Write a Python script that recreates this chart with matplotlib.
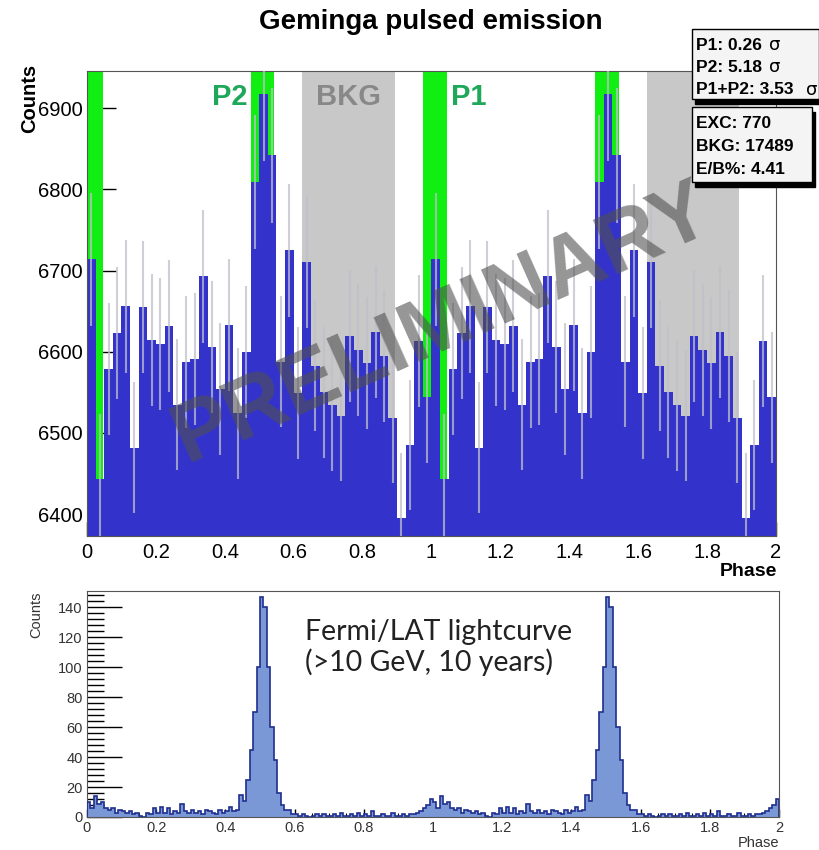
import numpy as np
import matplotlib
matplotlib.use("Agg")
import matplotlib.pyplot as plt
from matplotlib.patches import Rectangle

# MAGIC phase histogram, 40 bins per phase (repeated for phase 1-2)
magic_counts = [6714, 6443, 6579, 6623, 6656, 6482, 6655, 6614, 6610, 6632,
                6535, 6587, 6591, 6693, 6606, 6554, 6633, 6524, 6600, 6809,
                6918, 6842, 6588, 6725, 6549, 6711, 6583, 6550, 6534, 6521,
                6619, 6602, 6586, 6624, 6595, 6519, 6395, 6485, 6613, 6544]

# Fermi/LAT lightcurve, 100 bins per phase (repeated for phase 1-2)
fermi_counts = [10, 6, 14, 9, 10, 6, 5, 6, 3, 5,
                4, 3, 4, 2, 3, 1, 0, 3, 2, 6,
                3, 7, 3, 6, 2, 4, 3, 9, 4, 3,
                5, 3, 4, 2, 5, 4, 3, 2, 5, 3,
                4, 7, 4, 5, 15, 11, 25, 45, 70, 100,
                147, 140, 100, 60, 38, 16, 8, 5, 5, 2,
                2, 1, 2, 1, 0, 1, 2, 1, 2, 1,
                1, 2, 1, 3, 1, 1, 2, 1, 3, 1,
                2, 1, 4, 1, 1, 2, 1, 1, 3, 1,
                1, 2, 1, 2, 2, 3, 4, 6, 8, 12]

p1_region = (-0.025, 0.045)
p2_region = (0.475, 0.543)
bkg_region = (0.625, 0.893)

sig_labels = ["P1: 0.26", "P2: 5.18", "P1+P2: 3.53"]
stat_labels = ["EXC: 770", "BKG: 17489", "E/B%: 4.41"]

W, H = 820, 850
def fx(x): return x / W
def fy(y): return 1 - y / H

fig = plt.figure(figsize=(8.2, 8.5), dpi=100)
fnt = "Liberation Sans"

# ---------------- top panel ----------------
ax = fig.add_axes([fx(87), fy(536), fx(776) - fx(87), fy(71) - fy(536)])
vals = np.array(magic_counts * 2, dtype=float)
nb = len(vals)
edges = np.linspace(0, 2, nb + 1)
w = edges[1] - edges[0]

for k in range(-1, 2):
    for reg, col in [(p1_region, "#11ee11"), (p2_region, "#11ee11"), (bkg_region, "#c8c8c8")]:
        ax.axvspan(reg[0] + k, reg[1] + k, color=col, lw=0, zorder=1)

ax.bar(edges[:-1], vals, width=w, align="edge", color="#3333cc", lw=0, zorder=2)
cent = edges[:-1] + w / 2
err = np.sqrt(vals)
ax.vlines(cent, vals - err, vals + err, color=(0.75, 0.75, 0.8), alpha=0.75, lw=1.5, zorder=3)

ax.set_xlim(0, 2)
ax.set_ylim(6373, 6946)
ax.set_axisbelow(True)
ax.set_yticks(np.arange(6400, 6901, 100))
ax.set_xticks(np.arange(0, 2.01, 0.2))
ax.set_xticklabels(["0", "0.2", "0.4", "0.6", "0.8", "1", "1.2", "1.4", "1.6", "1.8", "2"])
ax.tick_params(axis="both", direction="in", labelsize=14.5, length=21, width=1, pad=3)
ax.tick_params(axis="x", length=10, pad=5)
for t in ax.get_xticklabels() + ax.get_yticklabels():
    t.set_fontfamily(fnt)
for s in ax.spines.values():
    s.set_color("#555555")

ax.text(0.415, 6914, "P2", color="#1fa85a", fontsize=21, fontweight="bold", family=fnt,
        ha="center", va="center", zorder=4)
ax.text(0.76, 6914, "BKG", color="#888888", fontsize=21, fontweight="bold", family=fnt,
        ha="center", va="center", zorder=4)
ax.text(1.109, 6914, "P1", color="#1fa85a", fontsize=21, fontweight="bold", family=fnt,
        ha="center", va="center", zorder=4)

ax.text(0.515, 0.455, "PRELIMINARY", transform=ax.transAxes, rotation=24,
        fontsize=61, fontweight="bold", family=fnt, color="#505050", alpha=0.6,
        ha="center", va="center", zorder=5)

fig.text(fx(431), fy(22), "Geminga pulsed emission", fontsize=20, fontweight="bold",
         family=fnt, ha="center", va="center")
fig.text(fx(30), fy(98), "Counts", fontsize=14.5, fontweight="bold", family=fnt,
         rotation=90, ha="center", va="center")
fig.text(fx(777), fy(572), "Phase", fontsize=14, fontweight="bold", family=fnt,
         ha="right", va="center")

# info boxes
def box(x0, y0, x1, y1):
    fig.patches.append(Rectangle((fx(x0 + 3), fy(y1 + 5)), fx(x1) - fx(x0), fy(y0) - fy(y1),
                                 transform=fig.transFigure, color="black", zorder=8))
    fig.patches.append(Rectangle((fx(x0), fy(y1)), fx(x1) - fx(x0), fy(y0) - fy(y1),
                                 transform=fig.transFigure, facecolor="#f4f4f4",
                                 edgecolor="black", lw=1, zorder=9))

box(692, 29, 819, 99)
for i, s in enumerate(sig_labels):
    yy = 45 + i * 22.5
    fig.text(fx(696), fy(yy), s, fontsize=12.5, fontweight="bold", family=fnt,
             ha="left", va="center", zorder=10)
    fig.text(fx(775 if i < 2 else 812), fy(yy), "σ", fontsize=13,
             family="DejaVu Sans", ha="center", va="center", zorder=10)

box(692, 107, 812, 182)
for i, s in enumerate(stat_labels):
    fig.text(fx(696), fy(123 + i * 23.5), s, fontsize=12.5, fontweight="bold", family=fnt,
             ha="left", va="center", zorder=10)

# ---------------- bottom panel ----------------
bx = fig.add_axes([fx(87), fy(817), fx(779) - fx(87), fy(591) - fy(817)])
fv = np.array(fermi_counts * 2, dtype=float)
fe = np.linspace(0, 2, len(fv) + 1)
bx.stairs(fv, fe, fill=True, color="#7a98d6", zorder=2)
bx.stairs(fv, fe, color="#1f2f8f", lw=1.2, zorder=3)
bx.set_xlim(0, 2)
bx.set_ylim(0, 151)
bx.set_yticks(np.arange(0, 141, 20))
bx.set_yticks(np.arange(0, 151, 4), minor=True)
bx.set_xticks(np.arange(0, 2.01, 0.2))
bx.set_xticks(np.arange(0, 2.01, 0.05), minor=True)
bx.set_xticklabels(["0", "0.2", "0.4", "0.6", "0.8", "1", "1.2", "1.4", "1.6", "1.8", "2"])
bx.tick_params(axis="y", which="major", direction="in", length=25, width=1, labelsize=10.5,
               labelcolor="#333333", pad=3)
bx.tick_params(axis="y", which="minor", direction="in", length=12, width=1)
bx.tick_params(axis="x", which="major", direction="in", length=6, width=1, labelsize=10.5,
               labelcolor="#333333", pad=3)
bx.tick_params(axis="x", which="minor", direction="in", length=3, width=0.8)
for t in bx.get_xticklabels() + bx.get_yticklabels():
    t.set_fontfamily(fnt)
for s in bx.spines.values():
    s.set_color("#555555")
bx.text(0.315, 0.875, "Fermi/LAT lightcurve\n(>10 GeV, 10 years)", transform=bx.transAxes,
        fontsize=20.5, family="Lato", color="#222222", ha="left", va="top", linespacing=1.15)
fig.text(fx(36), fy(592), "Counts", fontsize=10.5, family=fnt, color="#333333",
         rotation=90, ha="center", va="top")
fig.text(fx(779), fy(843), "Phase", fontsize=10.5, family=fnt, color="#333333",
         ha="right", va="center")

fig.savefig("out.png", dpi=100)
